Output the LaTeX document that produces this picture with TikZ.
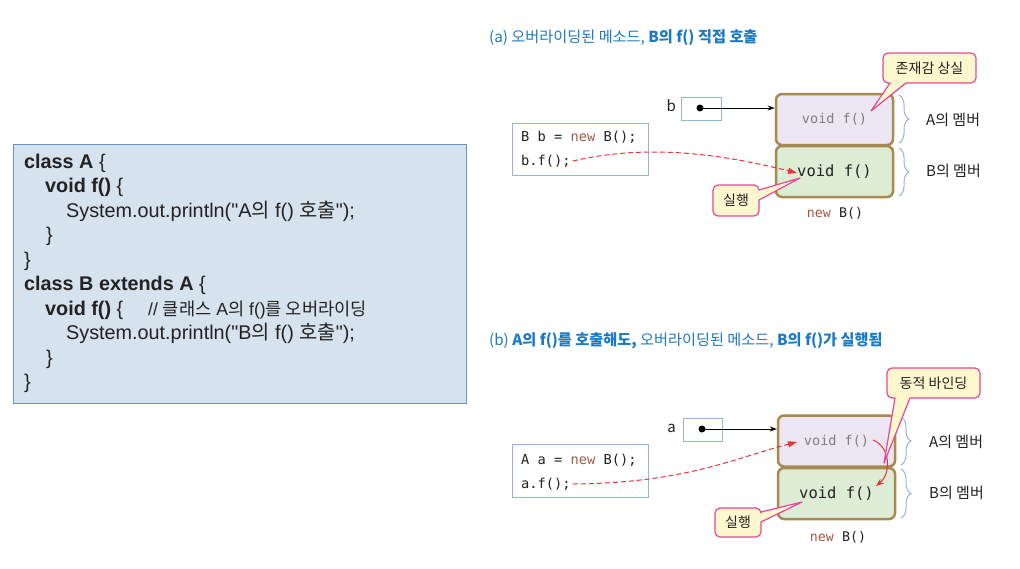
\documentclass[tikz,border=0pt]{standalone}
\usepackage{fontspec}
\setmainfont{Liberation Sans}
\newfontfamily\krfont{Noto Sans CJK KR}
\newfontfamily\monofont{DejaVu Sans Mono}
\newfontfamily\qfont{Liberation Sans}
\usetikzlibrary{arrows.meta,decorations.pathreplacing}
\newcommand{\kr}[1]{{\krfont #1}}
\newcommand{\dq}{{\qfont\char34}}
\definecolor{titleblue}{HTML}{1B7AC2}
\definecolor{codefill}{HTML}{D6E2EE}
\definecolor{codeborder}{HTML}{6A92C0}
\definecolor{boxblue}{HTML}{93B4DC}
\definecolor{objborder}{HTML}{A8894F}
\definecolor{afill}{HTML}{ECE6F2}
\definecolor{bfill}{HTML}{DDEDD5}
\definecolor{callfill}{HTML}{FFF8CF}
\definecolor{callborder}{HTML}{E6479A}
\definecolor{newcol}{HTML}{A45A45}
\definecolor{redarrow}{HTML}{E8333A}
\definecolor{graytext}{HTML}{7F7F7F}
\definecolor{darktext}{HTML}{222222}
\tikzset{
  codeline/.style={anchor=base west, inner sep=0pt, text=darktext, font=\fontsize{19.8}{23}\selectfont},
  comment/.style={anchor=base west, inner sep=0pt, text=darktext, font=\fontsize{17.6}{20}\selectfont},
  title/.style={anchor=west, inner sep=0pt, text=titleblue, font=\krfont\fontsize{15.2}{18}\selectfont},
  ptrbox/.style={draw=boxblue, line width=1pt, fill=white, inner sep=0pt},
  dotnode/.style={circle, fill=black, inner sep=0pt, minimum size=7pt},
  monoline/.style={anchor=west, inner sep=0pt, text=darktext, font=\monofont\fontsize{13.7}{16}\selectfont},
  objA/.style={draw=objborder, line width=2.5pt, rounded corners=6pt, fill=afill, minimum width=117pt, minimum height=51pt, inner sep=0pt, text=graytext, font=\monofont\fontsize{13.5}{16}\selectfont},
  objB/.style={draw=objborder, line width=2.5pt, rounded corners=6pt, fill=bfill, minimum width=117pt, minimum height=51pt, inner sep=0pt, text=darktext, font=\monofont\fontsize{15.5}{18}\selectfont},
  lab/.style={anchor=west, inner sep=0pt, text=darktext, font=\krfont\fontsize{15}{18}\selectfont},
  varlab/.style={anchor=east, inner sep=0pt, text=darktext, font=\krfont\fontsize{15}{18}\selectfont},
  newlab/.style={inner sep=0pt, text=darktext, font=\monofont\fontsize{13.3}{16}\selectfont},
  bracestyle/.style={draw=boxblue, line width=1pt, decorate, decoration={brace, amplitude=10pt}},
  callout/.style={draw=callborder, fill=callfill, line width=1.2pt, line join=round},
  calltext/.style={inner sep=0pt, text=darktext, font=\krfont\fontsize{14}{17}\selectfont},
  ptrarrow/.style={draw=black, line width=0.8pt, -{Stealth[length=7pt,width=5pt]}},
  reddash/.style={draw=redarrow, line width=1pt, dashed, dash pattern=on 5pt off 3pt, -{Triangle[length=9pt,width=6pt]}},
  redsolid/.style={draw=redarrow, line width=1pt, -{Stealth[length=8pt,width=6pt]}},
}
\begin{document}
\begin{tikzpicture}[x=1pt,y=-1pt]
\useasboundingbox (0,0) rectangle (1020,568);

% ---------- left code box ----------
\node[draw=codeborder, fill=codefill, line width=1pt, minimum width=453pt, minimum height=259pt, anchor=north west, inner sep=0pt] (code) at (13,144) {};
\node[codeline] (l1) at (24,168) {\textbf{class A} \{};
\node[codeline] (l2) at (45,192.5) {\textbf{void f()} \{};
\node[codeline] (l3) at (66,217) {System.out.println(\dq A\kr{의} f() \kr{호출}\dq);};
\node[codeline] (l4) at (46,241.5) {\}};
\node[codeline] (l5) at (24,266) {\}};
\node[codeline] (l6) at (24,290.5) {\textbf{class B extends A} \{};
\node[codeline] (l7) at (45,315) {\textbf{void f()} \{};
\node[comment] (l7c) at (148,315) {// \kr{클래스} A\kr{의} f()\kr{를 오버라이딩}};
\node[codeline] (l8) at (66,339.5) {System.out.println(\dq B\kr{의} f() \kr{호출}\dq);};
\node[codeline] (l9) at (46,364) {\}};
\node[codeline] (l10) at (24,388.5) {\}};

% ---------- (a) ----------
\node[title] (ta) at (489,38) {(a) 오버라이딩된 메소드, \textbf{B의 f() 직접 호출}};

\node[ptrbox, minimum width=40pt, minimum height=23pt] (pb) at (701,108.5) {};
\node[dotnode] (db) at (700,108) {};
\node[varlab] (vb) at (676,106) {b};

\node[objA] (oa1) at (834.5,119.5) {void f()};
\node[objB] (ob1) at (834.5,171.5) {void f()};
\draw[ptrarrow] (db.center) -- (db -| oa1.west);

\node[ptrbox, minimum width=136pt, minimum height=52pt, anchor=north west] (cb1) at (512,123) {};
\node[monoline] (c11) at (521,137) {B b = {\color{newcol}new} B();};
\node[monoline] (c12) at (521,161) {b.f();};

\coordinate (ea) at (797,173);
\draw[reddash] ([xshift=2pt]c12.east) .. controls (650,143) and (725,155) .. (ea);

\draw[bracestyle] (899,95) -- (899,143);
\draw[bracestyle] (899,148) -- (899,196);
\node[lab] (ma1) at (926,120) {A의 멤버};
\node[lab] (mb1) at (926,171) {B의 멤버};
\node[newlab] (nb1) at (835,213) {{\color{newcol}new} B()};

\path[callout] (929,53) [rounded corners=5pt] -- (976,53) -- (976,83) [sharp corners] -- (906,83) -- (871,111) -- (890,83) [rounded corners=5pt] -- (883,83) -- (883,53) -- cycle;
\node[calltext] (k1) at (929.5,68) {존재감 상실};

\path[callout] (736,216) [rounded corners=5pt] -- (713,216) -- (713,185) -- (759,185) [sharp corners] -- (759,190) -- (800,178) -- (759,200) [rounded corners=5pt] -- (759,216) -- cycle;
\node[calltext] (k2) at (736,200.5) {실행};

% ---------- (b) ----------
\node[title] (tb) at (489,341) {(b) \textbf{A의 f()를 호출해도,} 오버라이딩된 메소드, \textbf{B의 f()가 실행됨}};

\node[ptrbox, minimum width=39pt, minimum height=23pt] (pa) at (702.5,429.5) {};
\node[dotnode] (da) at (702,429) {};
\node[varlab] (va) at (676,428) {a};

\node[objA] (oa2) at (836.5,441) {void f()};
\node[objB] (ob2) at (836.5,493.5) {void f()};
\draw[ptrarrow] (da.center) -- (da -| oa2.west);

\node[ptrbox, minimum width=136pt, minimum height=53pt, anchor=north west] (cb2) at (512,444) {};
\node[monoline] (c21) at (521,460) {A a = {\color{newcol}new} B();};
\node[monoline] (c22) at (521,484) {a.f();};

\coordinate (eb) at (797,442);
\draw[reddash] ([xshift=2pt]c22.east) .. controls (685,483) and (735,458) .. (eb);

\coordinate (rs) at (873,440);
\coordinate (re) at (876,486);
\draw[redsolid] (rs) .. controls (891,447) and (891,474) .. (re);

\draw[bracestyle] (901,417) -- (901,465);
\draw[bracestyle] (901,469) -- (901,518);
\node[lab] (ma2) at (929,442) {A의 멤버};
\node[lab] (mb2) at (929,493) {B의 멤버};
\node[newlab] (nb2) at (838,537) {{\color{newcol}new} B()};

\path[callout] (933,368) [rounded corners=5pt] -- (980,368) -- (980,398) [sharp corners] -- (910,398) -- (884,463) -- (895,398) [rounded corners=5pt] -- (887,398) -- (887,368) -- cycle;
\node[calltext] (k3) at (933.5,383) {동적 바인딩};

\path[callout] (738,537) [rounded corners=5pt] -- (715,537) -- (715,508) -- (761,508) [sharp corners] -- (761,512) -- (802,502) -- (761,522) [rounded corners=5pt] -- (761,537) -- cycle;
\node[calltext] (k4) at (738,522.5) {실행};
\end{tikzpicture}
\end{document}
